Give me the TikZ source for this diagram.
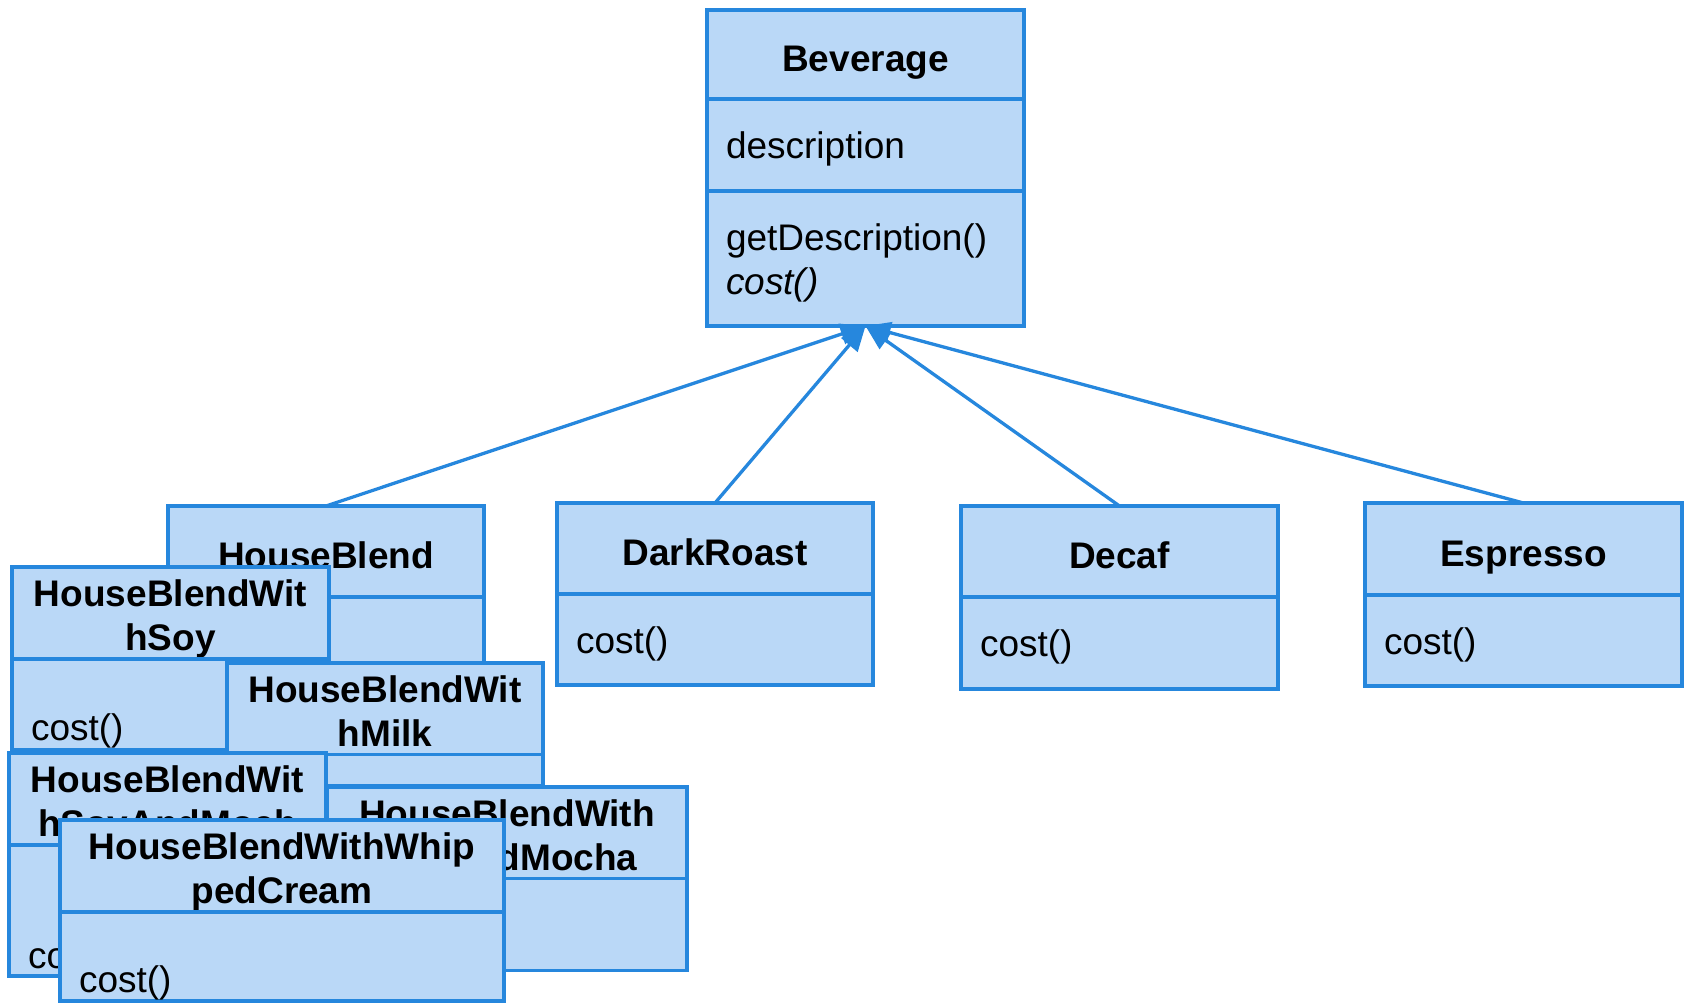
\documentclass[tikz,border=0pt]{standalone}
\usepackage{fontspec}
\setmainfont{Liberation Sans}
\usepackage{xcolor}
\usepackage{tikz}
\usetikzlibrary{positioning,arrows.meta}

\definecolor{umlblue}{HTML}{2687DD}
\definecolor{umlfill}{HTML}{BAD8F7}
\newcommand{\umlfont}{\fontsize{37pt}{44pt}\selectfont}
\newcommand{\twoline}[2]{\rule{0pt}{39.5pt}#1\\#2}

\begin{document}
\begin{tikzpicture}[x=1pt, y=-1pt,
	box/.style={draw=umlblue, fill=umlfill, line width=3.3pt, outer sep=0pt, inner ysep=0pt, font=\umlfont},
	head/.style={box, anchor=north west, inner xsep=0pt, align=center, font=\umlfont\bfseries,
		execute at begin node={\rule{0pt}{42pt}}, execute at end node={\rule[-8pt]{0pt}{8pt}}},
	comp/.style={box, below=0pt of #1, inner xsep=19pt, align=left,
		execute at begin node={\rule{0pt}{35pt}}, execute at end node={\rule[-8pt]{0pt}{8pt}}},
	blank/.style={box, below=0pt of #1, inner xsep=0pt},
	inherit/.style={draw=umlblue, line width=3.3pt, -{Triangle[length=25pt, width=21pt]}}]
		\useasboundingbox (0,0) rectangle (1685,1003);
		% superclass
		\node[head, minimum width=317pt, minimum height=89pt] (bevhead) at (707,10) {Beverage};
		\node[comp=bevhead, text width=279pt, minimum height=92pt] (bevattr) {description};
		\node[comp=bevattr, text width=279pt, minimum height=135pt] (bevops) {getDescription()\\\textit{cost()}};
		% plain subclasses
		\node[head, minimum width=316pt, minimum height=91pt] (darkhead) at (557,503) {DarkRoast};
		\node[comp=darkhead, text width=278pt, minimum height=91pt] (darkops) {cost()};
		\node[head, minimum width=317pt, minimum height=91pt] (decafhead) at (961,506) {Decaf};
		\node[comp=decafhead, text width=279pt, minimum height=92pt] (decafops) {cost()};
		\node[head, minimum width=317pt, minimum height=92pt] (esphead) at (1365,503) {Espresso};
		\node[comp=esphead, text width=279pt, minimum height=91pt] (espops) {cost()};
		% house blend and its piled-up variants
		\node[head, minimum width=316pt, minimum height=91pt] (hbhead) at (168,506) {HouseBlend};
		\node[blank=hbhead, minimum width=316pt, minimum height=91pt] (hbops) {};
		\node[head, minimum width=317pt, minimum height=92pt] (soyhead) at (12,567) {\twoline{HouseBlendWit}{hSoy}};
		\node[comp=soyhead, text width=279pt, minimum height=91pt] (soyops) {\mbox{}\\cost()};
		\node[head, minimum width=316pt, minimum height=91pt] (milkhead) at (227,663) {\twoline{HouseBlendWit}{hMilk}};
		\node[blank=milkhead, minimum width=316pt, minimum height=31pt] (milkops) {};
		\node[head, minimum width=317pt, minimum height=92pt] (smhead) at (9,753) {\twoline{HouseBlendWit}{hSoyAndMoch}};
		\node[comp=smhead, text width=279pt, minimum height=125pt] (smops) {\mbox{}\\\mbox{}\\cost()};
		\node[head, minimum width=360pt, minimum height=91pt] (mmhead) at (327,787) {\twoline{HouseBlendWith}{MilkAndMocha}};
		\node[blank=mmhead, minimum width=360pt, minimum height=92pt] (mmops) {};
		\node[head, minimum width=444pt, minimum height=92pt] (whiphead) at (60,820) {\twoline{HouseBlendWithWhip}{pedCream}};
		\node[comp=whiphead, text width=406pt, minimum height=89pt] (whipops) {\mbox{}\\cost()};
		% generalisation
		\draw[inherit] (hbhead.north) -- (bevops.south);
		\draw[inherit] (darkhead.north) -- (bevops.south);
		\draw[inherit] (decafhead.north) -- (bevops.south);
		\draw[inherit] (esphead.north) -- (bevops.south);
	\end{tikzpicture}
\end{document}
